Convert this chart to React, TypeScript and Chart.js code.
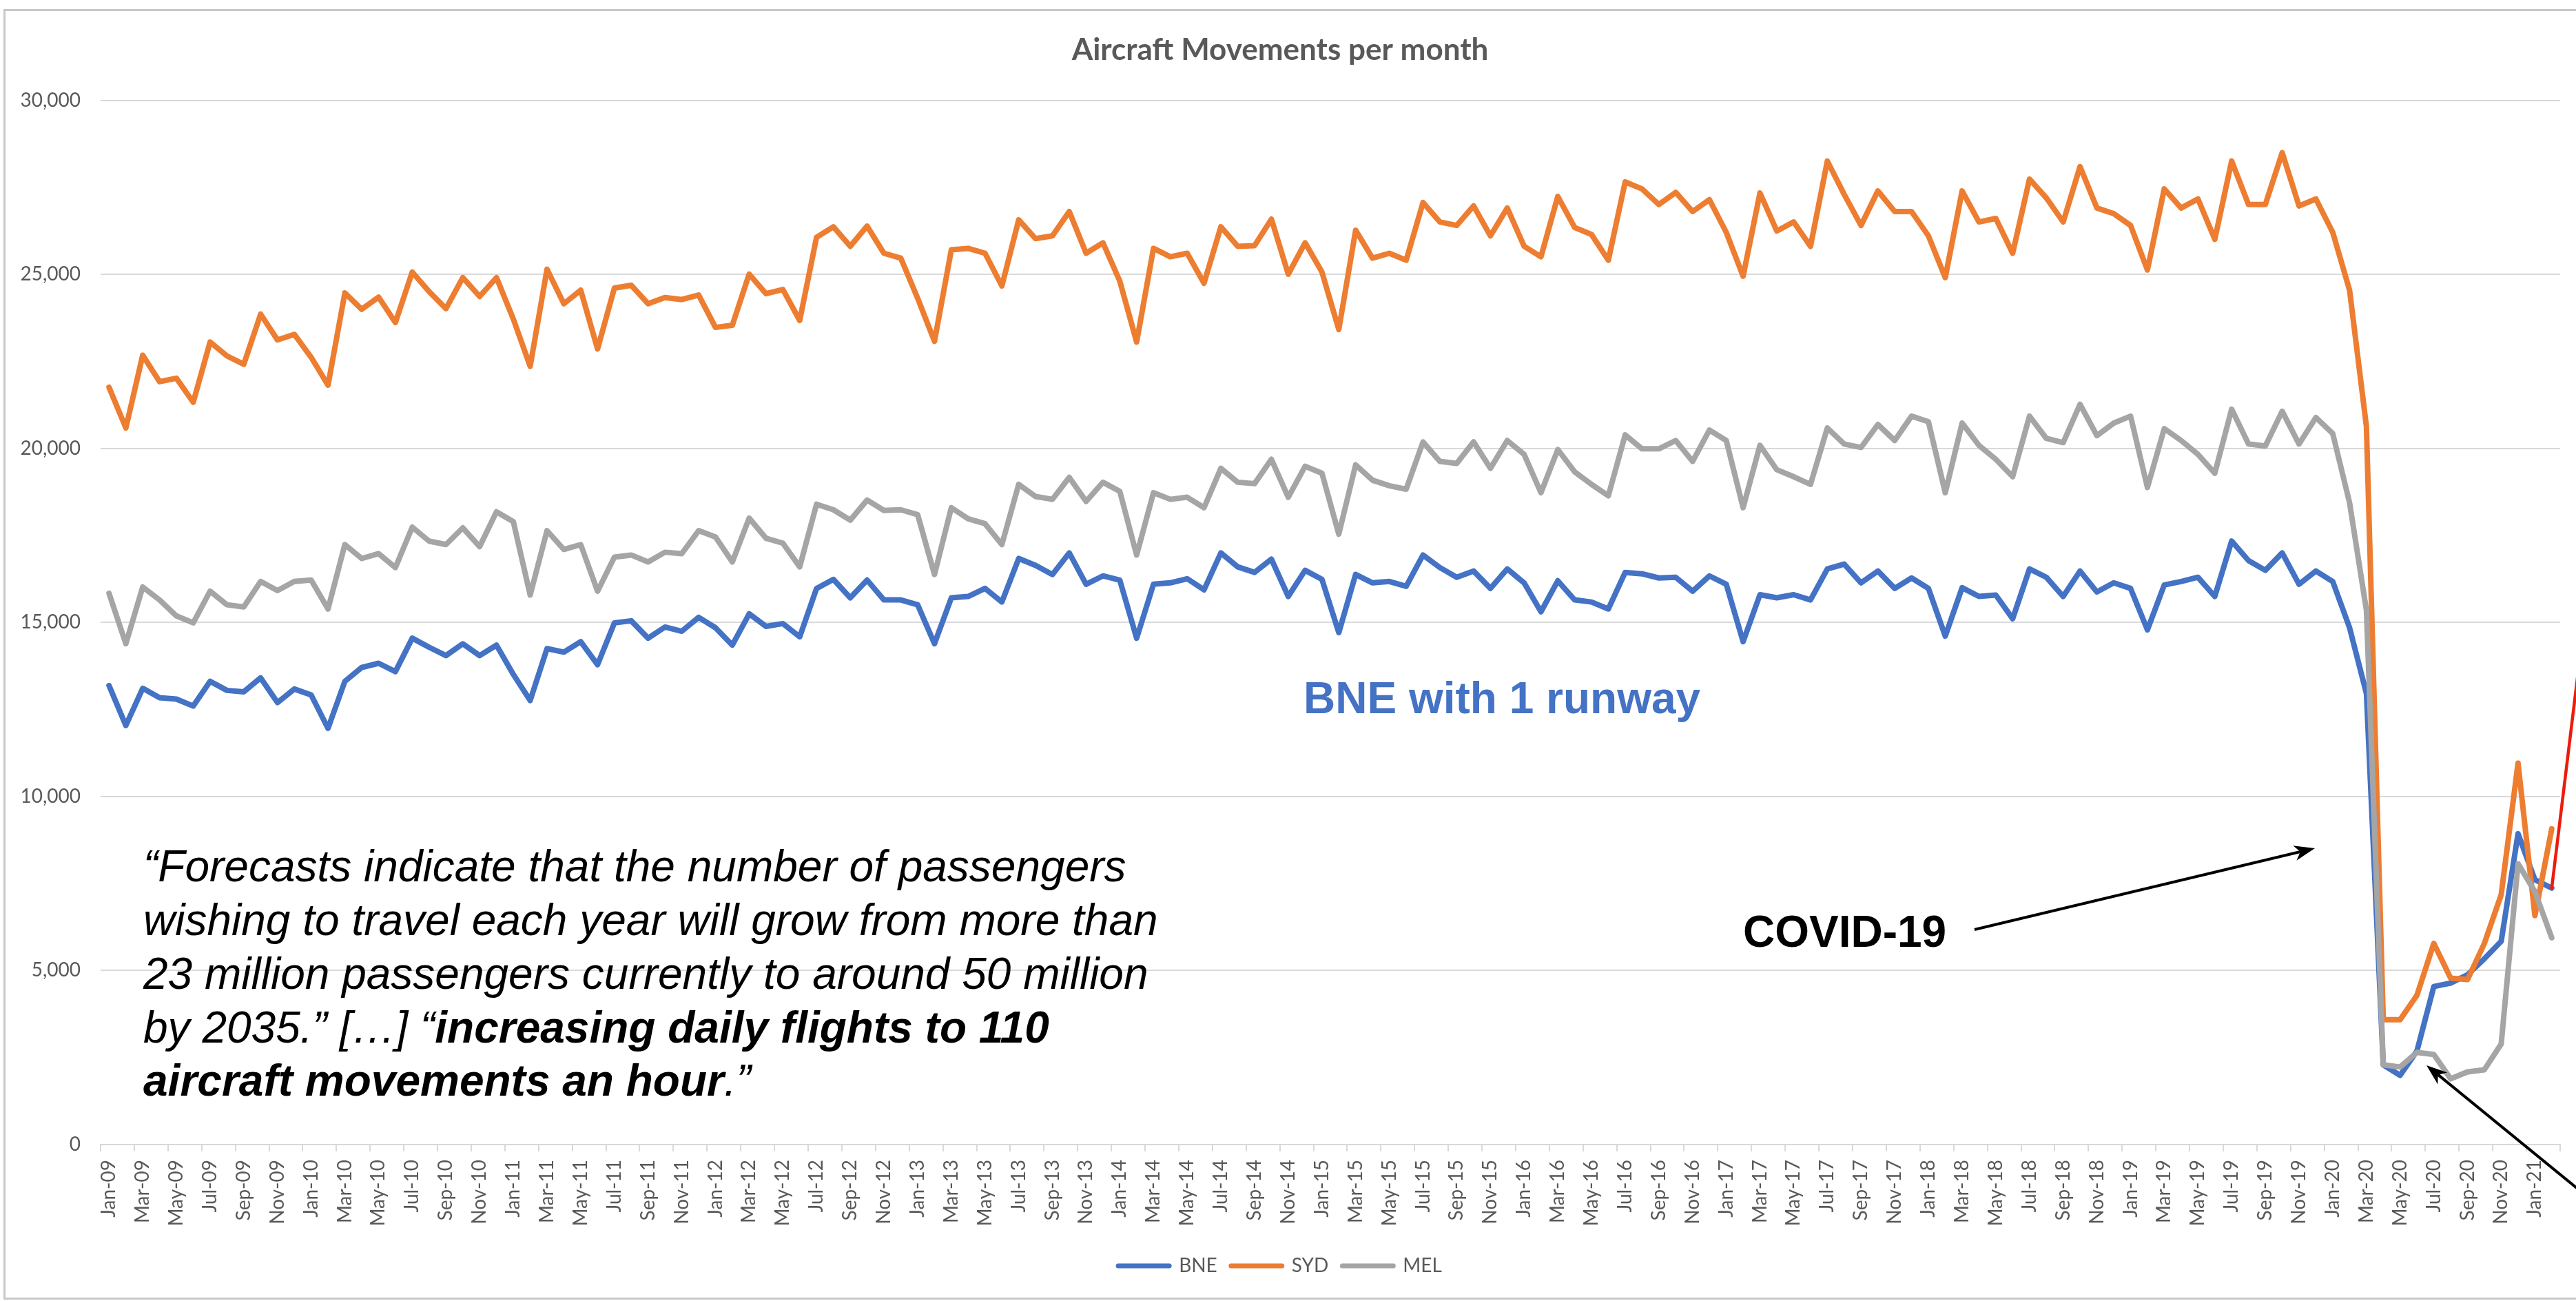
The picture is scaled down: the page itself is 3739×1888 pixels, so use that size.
import React, { useEffect, useRef } from 'react';
import { Chart, registerables } from 'chart.js';

Chart.register(...registerables);

// ---------- data ----------
const MONTHS = ['Jan', 'Feb', 'Mar', 'Apr', 'May', 'Jun', 'Jul', 'Aug', 'Sep', 'Oct', 'Nov', 'Dec'];
const YEARS = ['09', '10', '11', '12', '13', '14', '15', '16', '17', '18', '19', '20', '21'];
const MONTH_COUNT = 146; // Jan-09 .. Feb-21
const CATEGORIES: string[] = [];
for (let i = 0; i < MONTH_COUNT; i++) {
  CATEGORIES.push(`${MONTHS[i % 12]}-${YEARS[Math.floor(i / 12)]}`);
}

const BNE = [
  13190, 12040, 13110, 12840, 12800, 12600, 13310, 13050, 13010, 13410,
  12700, 13090, 12920, 11960, 13310, 13710, 13830, 13590, 14550, 14290,
  14050, 14390, 14050, 14350, 13510, 12760, 14250, 14150, 14450, 13790,
  14990, 15050, 14550, 14870, 14750, 15150, 14850, 14350, 15250, 14890,
  14970, 14590, 15980, 16240, 15710, 16220, 15650, 15650, 15510, 14390,
  15710, 15750, 15980, 15590, 16840, 16640, 16380, 17000, 16100, 16340,
  16220, 14550, 16100, 16140, 16260, 15940, 17000, 16600, 16440, 16820,
  15750, 16500, 16240, 14710, 16380, 16140, 16180, 16040, 16940, 16580,
  16300, 16480, 15980, 16540, 16140, 15310, 16200, 15650, 15590, 15390,
  16440, 16400, 16280, 16300, 15900, 16340, 16100, 14450, 15800, 15710,
  15800, 15650, 16540, 16680, 16140, 16480, 15980, 16280, 15980, 14610,
  16000, 15750, 15790, 15110, 16540, 16300, 15750, 16480, 15880, 16140,
  15980, 14790, 16080, 16180, 16300, 15750, 17340, 16780, 16500, 17000,
  16100, 16480, 16180, 14850, 12960, 2290, 1990, 2690, 4540, 4640,
  4880, 5340, 5840, 8930, 7610, 7370,
];

const SYD = [
  21760, 20590, 22680, 21920, 22020, 21330, 23060, 22660, 22420, 23860,
  23120, 23280, 22620, 21820, 24470, 24000, 24350, 23620, 25070, 24510,
  24020, 24910, 24370, 24910, 23720, 22360, 25150, 24160, 24550, 22860,
  24610, 24690, 24160, 24340, 24280, 24410, 23480, 23540, 25010, 24450,
  24570, 23680, 26070, 26370, 25810, 26390, 25610, 25470, 24320, 23080,
  25710, 25750, 25610, 24670, 26570, 26030, 26110, 26810, 25610, 25910,
  24810, 23060, 25750, 25510, 25610, 24750, 26370, 25810, 25830, 26590,
  25010, 25910, 25070, 23420, 26270, 25470, 25610, 25410, 27070, 26510,
  26410, 26970, 26110, 26910, 25810, 25510, 27240, 26350, 26150, 25410,
  27660, 27460, 27010, 27360, 26810, 27150, 26210, 24950, 27340, 26250,
  26510, 25810, 28260, 27300, 26410, 27400, 26810, 26810, 26110, 24910,
  27400, 26510, 26610, 25610, 27740, 27200, 26510, 28100, 26910, 26750,
  26410, 25130, 27460, 26910, 27170, 26010, 28260, 27010, 27010, 28500,
  26970, 27170, 26210, 24550, 20630, 3590, 3590, 4290, 5780, 4780,
  4740, 5780, 7180, 10960, 6580, 9070,
];

const MEL = [
  15840, 14390, 16020, 15650, 15190, 14990, 15900, 15510, 15450, 16180,
  15920, 16180, 16220, 15390, 17240, 16840, 16980, 16580, 17740, 17340,
  17240, 17720, 17180, 18180, 17900, 15790, 17640, 17100, 17240, 15900,
  16880, 16940, 16740, 17020, 16980, 17640, 17460, 16740, 18000, 17420,
  17280, 16600, 18400, 18240, 17940, 18520, 18220, 18240, 18100, 16380,
  18300, 17980, 17840, 17240, 18970, 18620, 18540, 19170, 18480, 19030,
  18770, 16940, 18730, 18540, 18600, 18300, 19430, 19030, 18990, 19690,
  18600, 19490, 19290, 17540, 19530, 19090, 18930, 18830, 20190, 19630,
  19570, 20190, 19430, 20230, 19830, 18730, 19970, 19330, 18970, 18640,
  20390, 19990, 19990, 20230, 19630, 20530, 20230, 18300, 20090, 19390,
  19190, 18970, 20590, 20130, 20030, 20690, 20230, 20930, 20770, 18730,
  20730, 20090, 19690, 19190, 20930, 20290, 20170, 21270, 20370, 20730,
  20930, 18880, 20570, 20230, 19830, 19290, 21130, 20130, 20070, 21070,
  20130, 20890, 20430, 18440, 15350, 2290, 2230, 2650, 2590, 1890,
  2090, 2150, 2890, 8070, 7270, 5940,
];

const SERIES_LABELS = ['BNE', 'SYD', 'MEL'];
const Y_MIN = 0;
const Y_MAX = 30000;
const Y_STEP = 5000;

// ---------- style ----------
const COLORS = ['#4472C4', '#ED7D31', '#A5A5A5'];
const TEXT_GREY = '#595959';
const GRID_GREY = '#D9D9D9';
const W = 3739;
const H = 1888;

const QUOTE_LINES: [string, boolean][][] = [
  [['\u201CForecasts indicate that the number of passengers', false]],
  [['wishing to travel each year will grow from more than', false]],
  [['23 million passengers currently to around 50 million', false]],
  [['by 2035.\u201D [\u2026] \u201C', false], ['increasing daily flights to 110', true]],
  [['aircraft movements an hour', true], ['.\u201D', false]],
];

function drawArrow(
  ctx: CanvasRenderingContext2D,
  x0: number, y0: number, x1: number, y1: number,
  len: number, half: number, width: number,
) {
  const a = Math.atan2(y1 - y0, x1 - x0);
  const c = Math.cos(a);
  const s = Math.sin(a);
  const bx = x1 - c * len;
  const by = y1 - s * len;
  const nx = x1 - c * len * 0.72;
  const ny = y1 - s * len * 0.72;
  ctx.beginPath();
  ctx.moveTo(x0, y0);
  ctx.lineTo(nx, ny);
  ctx.lineWidth = width;
  ctx.stroke();
  ctx.beginPath();
  ctx.moveTo(x1, y1);
  ctx.lineTo(bx - s * half, by + c * half);
  ctx.lineTo(nx, ny);
  ctx.lineTo(bx + s * half, by - c * half);
  ctx.closePath();
  ctx.fill();
}

const decorPlugin = {
  id: 'decor',
  beforeDraw(chart: any) {
    const ctx = chart.ctx as CanvasRenderingContext2D;
    ctx.save();
    ctx.fillStyle = '#ffffff';
    ctx.fillRect(0, 0, chart.width, chart.height);
    ctx.strokeStyle = '#C8C8C8';
    ctx.lineWidth = 3;
    ctx.strokeRect(6.5, 14.5, chart.width + 40, 1870);
    ctx.restore();
  },
  afterDraw(chart: any) {
    const ctx = chart.ctx as CanvasRenderingContext2D;
    const xs = chart.scales.x;
    const ys = chart.scales.y;
    ctx.save();

    // red projection line from last BNE point
    const last = BNE.length - 1;
    const rx = xs.getPixelForValue(last);
    const ry = ys.getPixelForValue(BNE[last]);
    ctx.strokeStyle = '#EE1B0C';
    ctx.lineWidth = 4.5;
    ctx.lineCap = 'round';
    ctx.beginPath();
    ctx.moveTo(rx, ry);
    ctx.lineTo(rx + 64, ry - 524);
    ctx.stroke();
    ctx.lineCap = 'butt';

    // quote
    ctx.fillStyle = '#000000';
    ctx.textBaseline = 'alphabetic';
    ctx.textAlign = 'left';
    const baselines = [1279, 1357, 1435, 1513, 1590];
    QUOTE_LINES.forEach((runs, li) => {
      let x = 208;
      runs.forEach(([txt, bold]) => {
        ctx.font = `italic ${bold ? 'bold ' : ''}64px "Liberation Sans", Arial, sans-serif`;
        ctx.fillText(txt, x, baselines[li]);
        x += ctx.measureText(txt).width;
      });
    });

    // BNE annotation
    ctx.font = 'bold 64px "Liberation Sans", Arial, sans-serif';
    ctx.fillStyle = COLORS[0];
    ctx.fillText('BNE with 1 runway', 1892, 1035);

    // COVID annotation
    ctx.fillStyle = '#000000';
    ctx.fillText('COVID-19', 2530, 1374);
    ctx.strokeStyle = '#000000';
    drawArrow(ctx, 2866, 1349, 3360, 1231, 30, 11, 4);
    drawArrow(ctx, 3800, 1773, 3522, 1546, 30, 11, 4);

    ctx.restore();
  },
};

export default function App() {
  const canvasRef = useRef<HTMLCanvasElement | null>(null);

  useEffect(() => {
    document.body.style.margin = '0';
    const canvas = canvasRef.current;
    if (!canvas) return;
    const common = {
      borderWidth: 8,
      pointRadius: 0,
      pointHoverRadius: 0,
      tension: 0,
      borderJoinStyle: 'round' as const,
      borderCapStyle: 'round' as const,
      fill: false,
    };
    const datasets = [BNE, SYD, MEL].map((d, i) => ({
      ...common,
      label: SERIES_LABELS[i],
      data: d,
      borderColor: COLORS[i],
      backgroundColor: COLORS[i],
      order: 2 - i,
    }));

    const chart = new Chart(canvas, {
      type: 'line',
      data: { labels: CATEGORIES, datasets },
      options: {
        responsive: false,
        animation: false,
        events: [],
        layout: { padding: { left: 0, right: 23, top: 0, bottom: 27 } },
        plugins: {
          title: {
            display: true,
            text: 'Aircraft Movements per month',
            color: TEXT_GREY,
            font: { family: 'Lato', size: 44, weight: 'bold', lineHeight: 1.2 },
            padding: { top: 46, bottom: 47 },
          },
          legend: {
            position: 'bottom',
            labels: {
              usePointStyle: true,
              pointStyle: 'line',
              pointStyleWidth: 74,
              padding: 20,
              color: TEXT_GREY,
              font: { family: 'Lato', size: 28 },
              sort: (a: any, b: any) => a.datasetIndex - b.datasetIndex,
              generateLabels: (c: any) => {
                const items = (Chart.defaults.plugins.legend.labels as any).generateLabels(c);
                return items.map((it: any) => ({
                  ...it,
                  lineWidth: 7,
                  lineCap: 'round',
                  strokeStyle: COLORS[it.datasetIndex],
                  fillStyle: COLORS[it.datasetIndex],
                  pointStyle: 'line',
                }));
              },
            },
          },
          tooltip: { enabled: false },
        },
        scales: {
          x: {
            type: 'category',
            offset: true,
            grid: {
              offset: true,
              drawOnChartArea: false,
              drawTicks: true,
              tickLength: 10,
              tickWidth: 2,
              lineWidth: 2,
              tickColor: (ctx: any) =>
                ctx.index === undefined || ctx.index % 2 === 0 ? GRID_GREY : 'rgba(0,0,0,0)',
            },
            border: { display: true, color: GRID_GREY, width: 2 },
            ticks: {
              autoSkip: false,
              minRotation: 90,
              maxRotation: 90,
              padding: 12,
              color: TEXT_GREY,
              font: { family: 'Lato', size: 28 },
              callback: (_v: any, i: number) => (i % 2 === 0 ? CATEGORIES[i] : ''),
            },
            afterFit: (s: any) => {
              s.height = 142;
              s.paddingLeft = 0;
              s.paddingRight = 0;
            },
          },
          y: {
            min: Y_MIN,
            max: Y_MAX,
            ticks: {
              stepSize: Y_STEP,
              padding: 29,
              color: TEXT_GREY,
              font: { family: 'Lato', size: 28 },
              callback: (v: any) => Number(v).toLocaleString('en-US'),
            },
            grid: { color: GRID_GREY, lineWidth: 2, drawTicks: false },
            border: { display: false },
            afterFit: (s: any) => {
              s.width = 146;
              s.paddingTop = 0;
              s.paddingBottom = 0;
            },
          },
        },
      },
      plugins: [decorPlugin],
    } as any);

    return () => {
      chart.destroy();
    };
  }, []);

  return (
    <div style={{ position: 'absolute', left: 0, top: 0, width: W, height: H, background: '#fff' }}>
      <canvas ref={canvasRef} width={W} height={H} style={{ display: 'block' }} />
    </div>
  );
}
